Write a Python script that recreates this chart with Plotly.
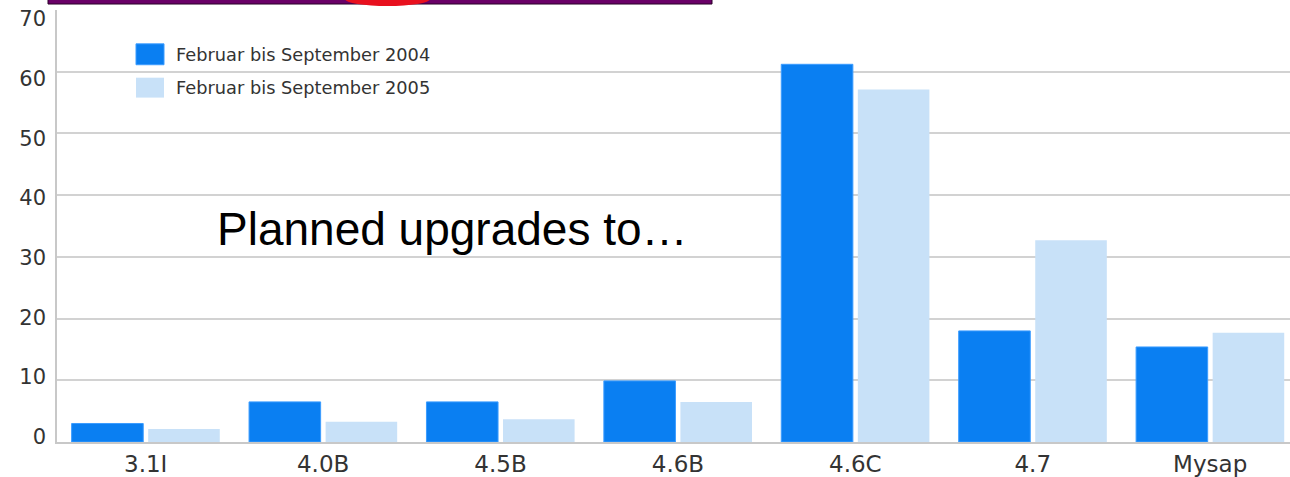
import plotly.graph_objects as go

categories = ["3.1I", "4.0B", "4.5B", "4.6B", "4.6C", "4.7", "Mysap"]
values_2004 = [3.0, 6.5, 6.5, 9.9, 61.2, 18.0, 15.4]
values_2005 = [2.1, 3.3, 3.7, 6.5, 57.1, 32.7, 17.7]
series_names = ["Februar bis September 2004", "Februar bis September 2005"]
y_ticks = [0, 10, 20, 30, 40, 50, 60, 70]

W, H = 1290, 477
L, R, T, B = 57, 0, 10, 33
PW, PH = W - L - R, H - T - B

dark = "#0a7ff2"
light = "#c8e1f8"

def px(x):
    return (x - L) / PW

def py(y):
    return (H - B - y) / PH

fig = go.Figure()
fig.add_trace(go.Bar(x=categories, y=values_2004, name=series_names[0],
                     marker=dict(color=dark, line=dict(color="#3b9cff", width=1)),
                     showlegend=False))
fig.add_trace(go.Bar(x=categories, y=values_2005, name=series_names[1],
                     marker=dict(color=light, line=dict(width=0)),
                     showlegend=False))

shapes = []
# custom legend squares
shapes.append(dict(type="rect", xref="paper", yref="paper",
                   x0=px(136), x1=px(164), y0=py(65), y1=py(44),
                   fillcolor=dark, line=dict(color="#3b9cff", width=1)))
shapes.append(dict(type="rect", xref="paper", yref="paper",
                   x0=px(136), x1=px(164), y0=py(98), y1=py(78),
                   fillcolor=light, line=dict(width=0)))
# purple title bar fragment at top
shapes.append(dict(type="rect", xref="paper", yref="paper",
                   x0=px(48), x1=px(712), y0=py(4), y1=py(-10),
                   fillcolor="#6a0068", line=dict(color="#2a0028", width=1)))
shapes.append(dict(type="circle", xref="paper", yref="paper",
                   x0=px(345), x1=px(430), y0=py(6), y1=py(-8),
                   fillcolor="#e8101e", line=dict(width=0)))

annotations = [
    dict(text=series_names[0], xref="paper", yref="paper", x=px(174), y=py(55),
         xanchor="left", yanchor="middle", showarrow=False,
         font=dict(family="DejaVu Sans", size=17.8, color="#333333")),
    dict(text=series_names[1], xref="paper", yref="paper", x=px(174), y=py(88),
         xanchor="left", yanchor="middle", showarrow=False,
         font=dict(family="DejaVu Sans", size=17.8, color="#333333")),
    dict(text="Planned upgrades to…", xref="paper", yref="paper", x=px(215), y=py(230),
         xanchor="left", yanchor="middle", showarrow=False,
         font=dict(family="Liberation Sans, Arial", size=46, color="#000000")),
]

fig.update_layout(
    width=W, height=H,
    margin=dict(l=L, r=R, t=T, b=B, pad=0),
    paper_bgcolor="white", plot_bgcolor="white",
    barmode="group", bargap=0.137, bargroupgap=0.065,
    shapes=shapes, annotations=annotations,
    showlegend=False,
    yaxis2=dict(overlaying="y", side="left", range=[-0.918, 71.5],
                tickvals=y_ticks, showgrid=False, showline=False, zeroline=False,
                ticks="", ticklabelstandoff=10,
                tickfont=dict(family="DejaVu Sans", size=21, color="#333333")),
)
fig.update_xaxes(range=[-0.5, 6.45], showgrid=False, showline=True,
                 linecolor="#c8c8c8", linewidth=2, ticks="",
                 tickfont=dict(family="DejaVu Sans", size=23, color="#333333"))
fig.update_yaxes(selector=dict(), range=[0, 70], tickvals=y_ticks, showgrid=True,
                 gridcolor="#d2d2d2", gridwidth=2, showline=True,
                 linecolor="#c8c8c8", linewidth=2, zeroline=False, ticks="",
                 showticklabels=False, row=None, col=None)
fig.layout.yaxis2.update(range=[-0.918, 71.5], showgrid=False, showline=False,
                         showticklabels=True)
# invisible carrier trace so the label axis is drawn
fig.add_trace(go.Scatter(x=[categories[0]], y=[0], yaxis="y2", mode="markers",
                         marker=dict(opacity=0), hoverinfo="skip", showlegend=False))

fig.write_html("out.html")
